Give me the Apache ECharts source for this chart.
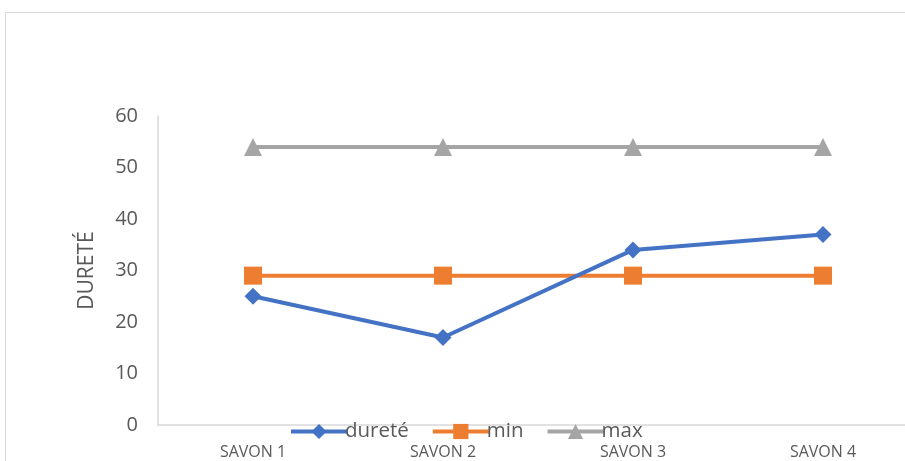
<!DOCTYPE html>
<html><head><meta charset="utf-8">
<script src="https://cdn.jsdelivr.net/npm/echarts@6/dist/echarts.min.js"></script>
<style>html,body{margin:0;padding:0;background:#fff;overflow:hidden}#c{width:925px;height:461px}</style>
</head><body><div id="c"></div>
<script>
const categories = ["SAVON 1", "SAVON 2", "SAVON 3", "SAVON 4"];
const durete = [25, 17, 34, 37];
const minVals = [29, 29, 29, 29];
const maxVals = [54, 54, 54, 54];
const yTicks = [0, 10, 20, 30, 40, 50, 60];

const chart = echarts.init(document.getElementById('c'), null, {renderer: 'canvas'});
const font = '"Open Sans", "Noto Sans", sans-serif';
chart.setOption({
  animation: false,
  textStyle: {fontFamily: font},
  graphic: [{
    type: 'rect', silent: true, z: -1,
    shape: {x: 5.5, y: 12.5, width: 940, height: 470},
    style: {fill: 'none', stroke: '#d9d9d9', lineWidth: 1}
  }],
  grid: {left: 158, top: 116, width: 760, height: 309, containLabel: false},
  legend: {
    data: ['dureté', 'min', 'max'],
    left: 284, top: 416,
    itemWidth: 56, itemHeight: 19, itemGap: 22,
    lineStyle: {width: 4},
    textStyle: {fontSize: 20.5, color: '#595959', fontFamily: font, padding: [0, 0, 0, -7]}
  },
  xAxis: {
    type: 'category', data: categories, boundaryGap: true,
    axisLine: {lineStyle: {color: '#d9d9d9', width: 1.5}},
    axisTick: {show: false},
    axisLabel: {color: '#595959', fontSize: 16, margin: 19, fontFamily: font}
  },
  yAxis: {
    type: 'value', min: yTicks[0], max: yTicks[yTicks.length - 1], interval: 10,
    name: 'DURETÉ', nameLocation: 'middle', nameGap: 60,
    nameTextStyle: {fontSize: 21, color: '#595959', fontFamily: font},
    axisLine: {show: true, lineStyle: {color: '#d9d9d9', width: 1.5}},
    axisTick: {show: false},
    splitLine: {show: false},
    axisLabel: {color: '#595959', fontSize: 20, margin: 20, fontFamily: font}
  },
  series: [
    {name: 'dureté', type: 'line', data: durete, symbol: 'diamond', symbolSize: 17,
     lineStyle: {color: '#4472c4', width: 4}, itemStyle: {color: '#4472c4'}, z: 4},
    {name: 'min', type: 'line', data: minVals, symbol: 'rect', symbolSize: 18,
     lineStyle: {color: '#ed7d31', width: 4}, itemStyle: {color: '#ed7d31'}, z: 3},
    {name: 'max', type: 'line', data: maxVals, symbol: 'triangle', symbolSize: 18,
     lineStyle: {color: '#a5a5a5', width: 4}, itemStyle: {color: '#a5a5a5'}, z: 2}
  ]
});
</script></body></html>
